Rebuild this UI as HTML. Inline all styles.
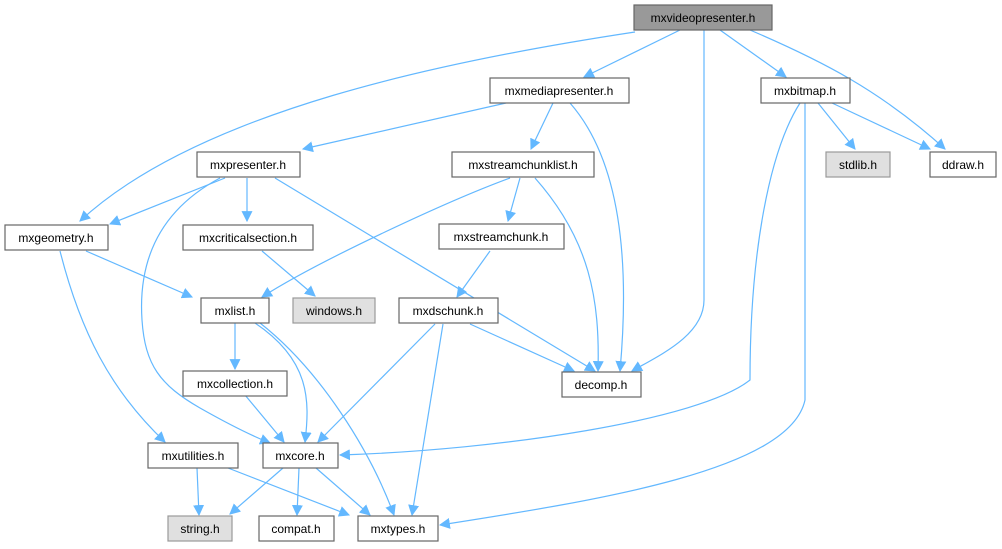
<!DOCTYPE html>
<html><head><meta charset="utf-8"><style>
body{margin:0;background:#fff;}
svg{display:block}
text{font-family:"Liberation Sans",sans-serif;font-size:12px;fill:#000;text-anchor:middle}
.n{fill:#fff;stroke:#666;stroke-width:1.2}
.g{fill:#e0e0e0;stroke:#999;stroke-width:1.2}
.e{fill:none;stroke:#63b8ff;stroke-width:1.2}
</style></head><body>
<svg width="1002" height="549" viewBox="0 0 1002 549">
<defs><marker id="a" viewBox="0 0 10 10" refX="9" refY="5" markerWidth="11" markerHeight="11" markerUnits="userSpaceOnUse" orient="auto"><path d="M0,0L10,5L0,10z" fill="#63b8ff"/></marker></defs>
<g class="e" marker-end="url(#a)">
<path d="M635,32 C450,60 200,110 80,221"/>
<path d="M680,30 L584,77"/>
<path d="M704,30 L704,300 C704,335 660,355 632,371"/>
<path d="M720,30 L786,77"/>
<path d="M750,30 C820,60 880,90 945,149"/>
<path d="M506,103 L303,149"/>
<path d="M553,103 L531,149"/>
<path d="M570,103 C620,160 630,260 620,371"/>
<path d="M800,103 C770,150 750,250 750,380 C700,420 500,450 340,455"/>
<path d="M805,103 L805,400 C790,470 600,500 440,525"/>
<path d="M818,103 L855,149"/>
<path d="M832,103 L930,149"/>
<path d="M225,178 L110,224"/>
<path d="M247,178 L247,221"/>
<path d="M275,178 L595,371"/>
<path d="M220,178 C160,210 138,260 142,320 C145,365 160,385 200,408 C230,425 250,435 270,443"/>
<path d="M520,178 L508,221"/>
<path d="M510,178 C450,200 320,260 262,297"/>
<path d="M535,178 C590,240 600,300 598,371"/>
<path d="M262,251 L315,296"/>
<path d="M86,251 L192,297"/>
<path d="M60,251 C80,330 110,390 165,442"/>
<path d="M490,251 L457,297"/>
<path d="M235,323 L235,369"/>
<path d="M255,323 C310,360 310,400 305,442"/>
<path d="M260,323 C320,370 370,450 394,515"/>
<path d="M435,324 L318,442"/>
<path d="M443,324 L412,515"/>
<path d="M470,324 L574,371"/>
<path d="M245,395 L284,442"/>
<path d="M197,468 L199,515"/>
<path d="M228,468 L349,515"/>
<path d="M283,468 L230,514"/>
<path d="M299,468 L297,515"/>
<path d="M316,468 L370,515"/>
</g>
<rect x="634" y="5" width="138" height="25" fill="#999" stroke="#666" stroke-width="1.2"/><text x="703" y="22">mxvideopresenter.h</text>
<rect class="n" x="490" y="78" width="139" height="25"/><text x="559" y="95">mxmediapresenter.h</text>
<rect class="n" x="761" y="78" width="89" height="25"/><text x="805" y="95">mxbitmap.h</text>
<rect class="n" x="197" y="152" width="103" height="25"/><text x="248" y="169">mxpresenter.h</text>
<rect class="n" x="452" y="152" width="142" height="25"/><text x="523" y="169">mxstreamchunklist.h</text>
<rect class="g" x="826" y="152" width="64" height="25"/><text x="858" y="169">stdlib.h</text>
<rect class="n" x="930" y="152" width="66" height="25"/><text x="963" y="169">ddraw.h</text>
<rect class="n" x="5" y="225" width="103" height="25"/><text x="56" y="242">mxgeometry.h</text>
<rect class="n" x="183" y="225" width="130" height="25"/><text x="248" y="242">mxcriticalsection.h</text>
<rect class="n" x="439" y="224" width="125" height="25"/><text x="501" y="241">mxstreamchunk.h</text>
<rect class="n" x="201" y="298" width="68" height="25"/><text x="235" y="315">mxlist.h</text>
<rect class="g" x="293" y="298" width="82" height="25"/><text x="334" y="315">windows.h</text>
<rect class="n" x="399" y="298" width="99" height="25"/><text x="448" y="315">mxdschunk.h</text>
<rect class="n" x="562" y="372" width="79" height="25"/><text x="601" y="389">decomp.h</text>
<rect class="n" x="183" y="371" width="104" height="25"/><text x="235" y="388">mxcollection.h</text>
<rect class="n" x="148" y="443" width="90" height="25"/><text x="193" y="460">mxutilities.h</text>
<rect class="n" x="263" y="443" width="75" height="25"/><text x="300" y="460">mxcore.h</text>
<rect class="g" x="168" y="516" width="64" height="25"/><text x="200" y="533">string.h</text>
<rect class="n" x="259" y="516" width="75" height="25"/><text x="296" y="533">compat.h</text>
<rect class="n" x="358" y="516" width="80" height="25"/><text x="398" y="533">mxtypes.h</text>
</svg>
</body></html>
